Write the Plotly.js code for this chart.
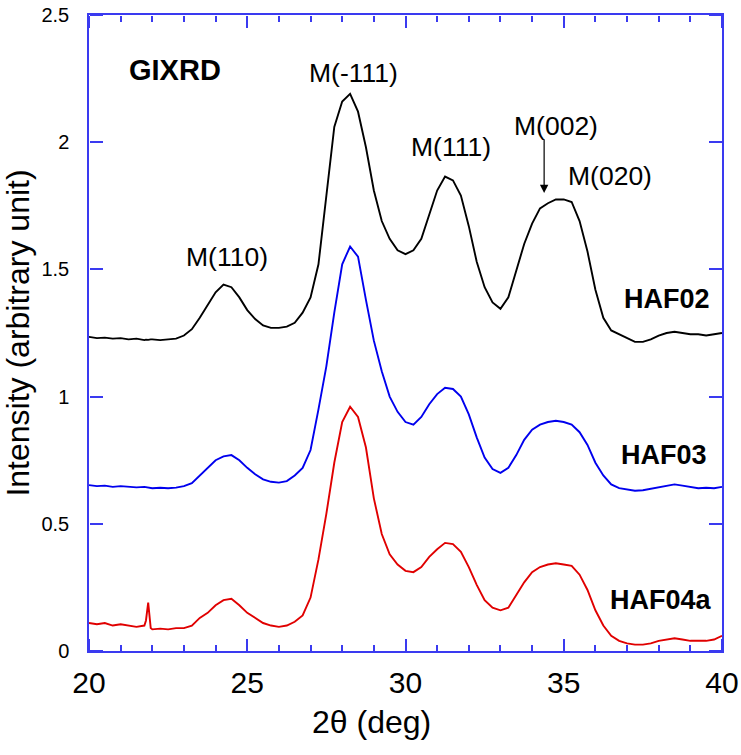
<!DOCTYPE html>
<html>
<head>
<meta charset="utf-8">
<script src="https://cdn.plot.ly/plotly-3.0.1.min.js"></script>
<style>html,body{margin:0;padding:0;background:#fff;}#chart{width:741px;height:755px;}</style>
</head>
<body>
<div id="chart"></div>
<script>
var twoTheta = [20.0,20.25,20.5,20.75,21.0,21.25,21.5,21.75,21.8,21.87,21.95,22.0,22.25,22.5,22.75,23.0,23.25,23.5,23.75,24.0,24.25,24.5,24.75,25.0,25.25,25.5,25.75,26.0,26.25,26.5,26.75,27.0,27.25,27.5,27.75,28.0,28.25,28.5,28.75,29.0,29.25,29.5,29.75,30.0,30.25,30.5,30.75,31.0,31.25,31.5,31.75,32.0,32.25,32.5,32.75,33.0,33.25,33.5,33.75,34.0,34.25,34.5,34.75,35.0,35.25,35.5,35.75,36.0,36.25,36.5,36.75,37.0,37.25,37.5,37.75,38.0,38.25,38.5,38.75,39.0,39.25,39.5,39.75,40.0];

var haf02 = [1.235,1.230,1.232,1.228,1.230,1.225,1.228,1.222,1.224,1.223,1.225,1.225,1.222,1.225,1.228,1.240,1.265,1.310,1.360,1.410,1.440,1.430,1.390,1.340,1.305,1.280,1.270,1.270,1.275,1.290,1.330,1.390,1.520,1.780,2.060,2.160,2.190,2.120,1.980,1.810,1.690,1.620,1.575,1.560,1.575,1.620,1.720,1.810,1.865,1.850,1.790,1.670,1.530,1.430,1.370,1.345,1.390,1.500,1.600,1.680,1.740,1.760,1.775,1.775,1.765,1.690,1.570,1.420,1.310,1.260,1.245,1.230,1.215,1.215,1.225,1.240,1.250,1.255,1.250,1.245,1.245,1.240,1.245,1.250];

var haf03 = [0.652,0.648,0.650,0.645,0.648,0.645,0.643,0.645,0.644,0.643,0.641,0.640,0.642,0.640,0.642,0.648,0.660,0.690,0.720,0.750,0.765,0.770,0.750,0.720,0.695,0.675,0.665,0.662,0.668,0.690,0.720,0.790,0.950,1.120,1.330,1.520,1.590,1.550,1.380,1.220,1.100,1.000,0.940,0.900,0.890,0.920,0.970,1.010,1.035,1.030,1.000,0.930,0.840,0.760,0.715,0.700,0.720,0.770,0.830,0.870,0.890,0.900,0.905,0.900,0.890,0.860,0.810,0.740,0.690,0.655,0.640,0.635,0.630,0.632,0.638,0.645,0.650,0.655,0.650,0.645,0.640,0.642,0.640,0.645];

var haf04a = [0.110,0.105,0.110,0.100,0.105,0.100,0.095,0.100,0.120,0.190,0.090,0.085,0.088,0.085,0.090,0.090,0.100,0.130,0.150,0.180,0.200,0.205,0.180,0.150,0.130,0.110,0.100,0.095,0.100,0.115,0.140,0.210,0.360,0.540,0.740,0.900,0.960,0.920,0.800,0.600,0.460,0.380,0.340,0.315,0.310,0.330,0.370,0.400,0.425,0.420,0.390,0.330,0.260,0.200,0.170,0.160,0.170,0.220,0.270,0.310,0.330,0.340,0.345,0.340,0.335,0.300,0.240,0.160,0.100,0.060,0.040,0.030,0.025,0.025,0.030,0.040,0.045,0.050,0.045,0.040,0.040,0.040,0.045,0.060];

var seriesNames = ["HAF02","HAF03","HAF04a"];
var seriesColors = ["#000000","#0000ee","#e00000"];
var yTickVals = [0,0.5,1,1.5,2,2.5];
var yTickText = ["0","0.5","1","1.5","2","2.5"];

var peakLabels = ["M(110)","M(-111)","M(111)","M(002)","M(020)"];
var peakX = [24.36,28.36,31.45,34.77,36.45];
var peakY = [1.549,2.272,1.98,2.063,1.867];

var sampleLabelX = [38.26,38.17,38.07];
var sampleLabelY = [1.384,0.77,0.20];

var xTitle = "2θ (deg)";
var yTitle = "Intensity (arbitrary unit)";

var axisColor = "#3a3af0";
var allY = [haf02, haf03, haf04a];
var axisPairs = [["x","y"],["x2","y2"],["x3","y3"]];

var traces = allY.map(function(ys, i){
  return {x: twoTheta, y: ys, type: "scatter", mode: "lines", name: seriesNames[i],
          xaxis: axisPairs[i][0], yaxis: axisPairs[i][1],
          line: {color: seriesColors[i], width: 1.9}, showlegend: false};
});

var FONT = "Liberation Sans, Arial, sans-serif";
var annotations = [];
annotations.push({x: 22.73, y: 2.284, xref: "x", yref: "y", text: "<b>GIXRD</b>", showarrow: false,
  font: {family: FONT, size: 29, color: "#000"}});
peakLabels.forEach(function(t, i){
  annotations.push({x: peakX[i], y: peakY[i], xref: "x", yref: "y", text: t, showarrow: false,
    font: {family: FONT, size: 26.5, color: "#000"}});
});
seriesNames.forEach(function(t, i){
  annotations.push({x: sampleLabelX[i], y: sampleLabelY[i], xref: "x", yref: "y", text: "<b>" + t + "</b>", showarrow: false,
    font: {family: FONT, size: 27, color: "#000"}});
});
annotations.push({x: 34.38, y: 1.80, xref: "x", yref: "y", ax: 0, ay: -55, text: "", showarrow: true,
  arrowhead: 2, arrowsize: 1.4, arrowwidth: 1.2, arrowcolor: "#000", standoff: 0});
annotations.push({x: 0.447, y: 0, xref: "paper", yref: "paper", yshift: -71, yanchor: "middle", xanchor: "center",
  text: xTitle, showarrow: false, font: {family: FONT, size: 32, color: "#000"}});

var xRange = [20, 40], yRange = [0, 2.5];

// tick-only axes: outside ticks of an axis drawn on the opposite edge point into the plot
function xTickAxis(side, pos){
  return {range: xRange, overlaying: "x", anchor: "free", position: pos, side: side,
    tickmode: "linear", tick0: 20, dtick: 5, ticks: "outside", ticklen: 12, tickwidth: 1.5, tickcolor: axisColor,
    minor: {dtick: 1, ticks: "outside", ticklen: 6, tickwidth: 1.5, tickcolor: axisColor},
    showticklabels: false, showline: false, showgrid: false, zeroline: false, fixedrange: true};
}
function yTickAxis(side, pos){
  return {range: yRange, overlaying: "y", anchor: "free", position: pos, side: side,
    tickmode: "array", tickvals: yTickVals, ticks: "outside", ticklen: 13, tickwidth: 1.5, tickcolor: axisColor,
    showticklabels: false, showline: false, showgrid: false, zeroline: false, fixedrange: true};
}

var layout = {
  width: 741, height: 755,
  margin: {l: 89, r: 19, t: 15, b: 104},
  paper_bgcolor: "#fff", plot_bgcolor: "#fff",
  showlegend: false,
  font: {family: FONT, color: "#000"},
  xaxis: {
    range: xRange, tickmode: "linear", tick0: 20, dtick: 5, ticks: "",
    showline: true, linecolor: axisColor, linewidth: 1.5, mirror: true, showgrid: false, zeroline: false,
    tickfont: {size: 30, color: "#000"}, ticklabelstandoff: 4
  },
  yaxis: {
    range: yRange, tickmode: "array", tickvals: yTickVals, ticktext: yTickText, ticks: "",
    showline: true, linecolor: axisColor, linewidth: 1.5, mirror: true, showgrid: false, zeroline: false,
    tickfont: {size: 20, color: "#000"}, ticklabelstandoff: 14,
    title: {text: yTitle, font: {size: 32, color: "#000"}}
  },
  xaxis2: xTickAxis("top", 0),
  yaxis2: yTickAxis("right", 0),
  xaxis3: xTickAxis("bottom", 1),
  yaxis3: yTickAxis("left", 1),
  annotations: annotations
};

Plotly.newPlot("chart", traces, layout, {displayModeBar: false});
</script>
</body>
</html>
